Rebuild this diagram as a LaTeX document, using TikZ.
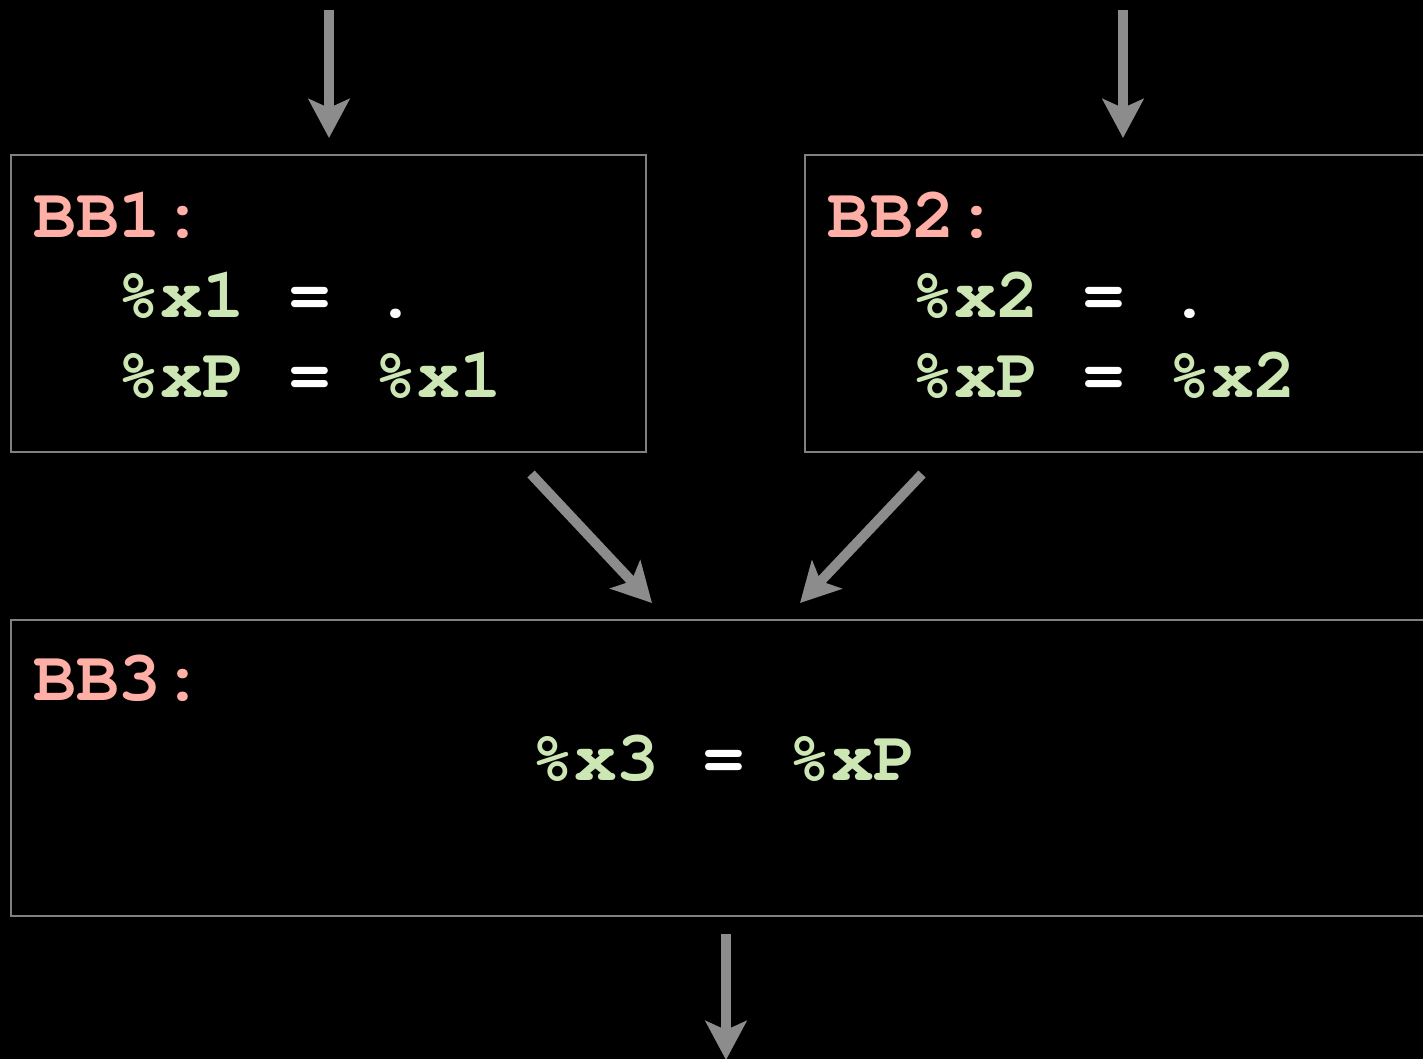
\documentclass[tikz,border=0pt]{standalone}
\usepackage{fontspec}
\usetikzlibrary{arrows.meta}
% bold Courier (Type 1, T1 encoding) for the code text
\newcommand{\codeface}{\fontencoding{T1}\fontfamily{pcr}\fontseries{b}\selectfont}
\definecolor{lblpink}{HTML}{FFAFA6}
\definecolor{codegreen}{HTML}{CCE6B4}
\definecolor{edgegray}{HTML}{8C8C8C}
\definecolor{boxgray}{HTML}{808080}
\begin{document}
\begin{tikzpicture}[x=1pt,y=-1pt,
  bbox/.style={draw=boxgray, line width=2pt, anchor=north west, inner sep=0pt},
  code/.style={anchor=base west, inner sep=0pt, font=\codeface\fontsize{71.4}{80}\selectfont},
  lbl/.style={code, text=lblpink},
  flow/.style={draw=edgegray, line width=10pt,
    -{Stealth[length=39pt,width=41pt,inset=9pt]}}]
  % page and background
  \fill[black] (0,0) rectangle (1423,1059);
  \useasboundingbox (0,0) rectangle (1423,1059);
  \clip (0,0) rectangle (1423,1059);

  % basic blocks
  \node[bbox, minimum width=635pt, minimum height=297pt] (bb1) at (10,154) {};
  \node[bbox, minimum width=640pt, minimum height=297pt] (bb2) at (804,154) {};
  \node[bbox, minimum width=1434pt, minimum height=296pt] (bb3) at (10,619) {};

  % block contents
  \node[lbl] (t1) at (33,237) {BB1:};
  \node[code] (c11) at (117,317) {\textcolor{codegreen}{\%x1} \textcolor{white}{= .}};
  \node[code] (c12) at (117,397) {\textcolor{codegreen}{\%xP} \textcolor{white}{=} \textcolor{codegreen}{\%x1}};

  \node[lbl] (t2) at (827,237) {BB2:};
  \node[code] (c21) at (911,317) {\textcolor{codegreen}{\%x2} \textcolor{white}{= .}};
  \node[code] (c22) at (911,397) {\textcolor{codegreen}{\%xP} \textcolor{white}{=} \textcolor{codegreen}{\%x2}};

  \node[lbl] (t3) at (33,700) {BB3:};
  \node[code] (c31) at (531,780) {\textcolor{codegreen}{\%x3} \textcolor{white}{=} \textcolor{codegreen}{\%xP}};

  % control-flow edges
  \coordinate (in1) at (329,10);
  \coordinate (in2) at (1123,10);
  \coordinate (out3) at (726,1060);
  \coordinate (e1s) at (531,474);
  \coordinate (e1t) at (652,603);
  \coordinate (e2s) at (922,474);
  \coordinate (e2t) at (800,603);

  \draw[flow, shorten >=16pt] (in1) -- (in1 |- bb1.north);
  \draw[flow, shorten >=16pt] (in2) -- (in2 |- bb2.north);
  \draw[flow] (e1s) -- (e1t);
  \draw[flow] (e2s) -- (e2t);
  \draw[flow, shorten <=17pt] (out3 |- bb3.south) -- (out3);
\end{tikzpicture}
\end{document}
